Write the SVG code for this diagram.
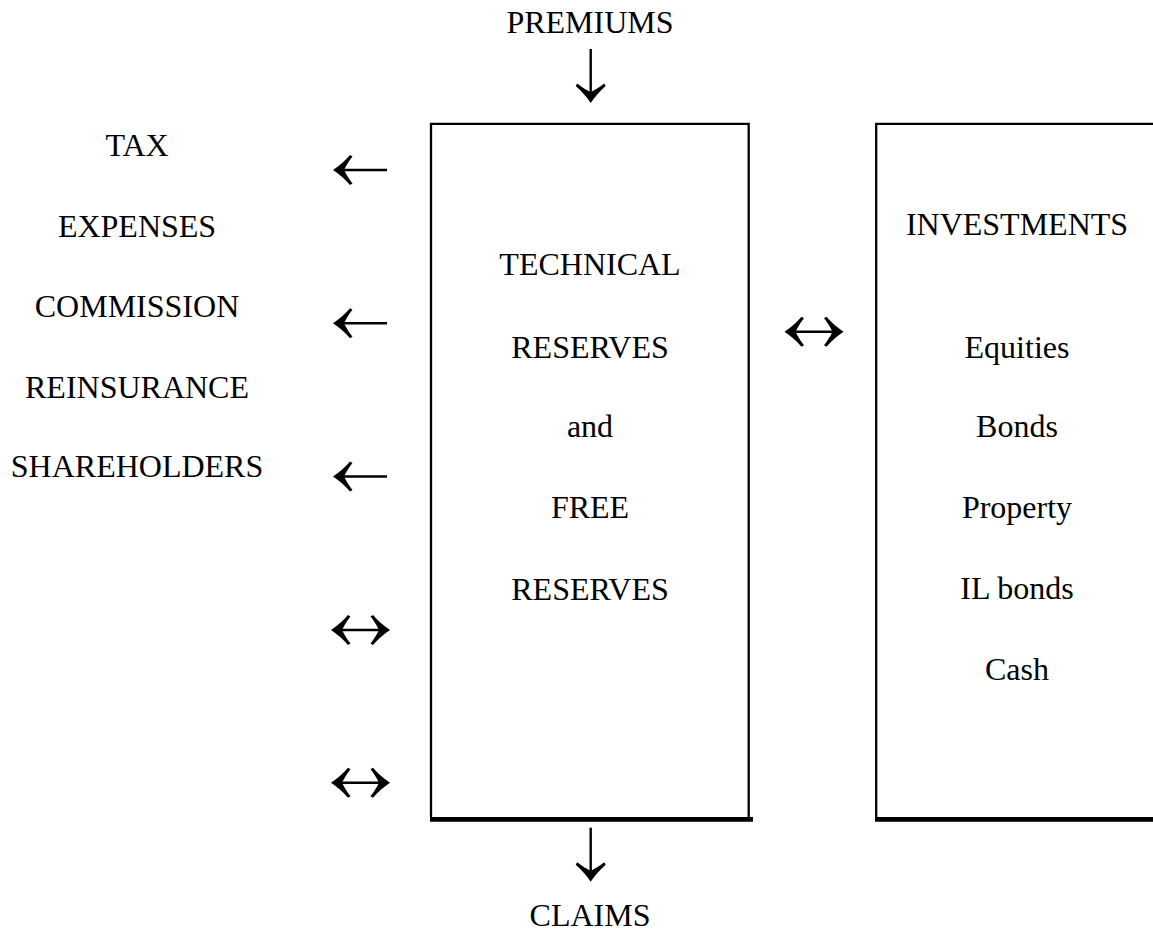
<svg xmlns="http://www.w3.org/2000/svg" xmlns:xlink="http://www.w3.org/1999/xlink" width="1153" height="933" viewBox="0 0 1153 933">
<style>
text{font-family:"Liberation Serif","Times New Roman",serif;font-size:32px;fill:#000;text-anchor:middle}
.thin{stroke:#000;stroke-width:2.3;fill:none}
.thick{stroke:#000;stroke-width:4.7;fill:none}
.shaft{stroke:#000;stroke-width:2.4;fill:none}
.head{fill:#000;stroke:none}
</style>
<defs>
<path id="hd" class="head" d="M0,0 C6,-4 12,-9 17,-15 L19.5,-13.5 C15,-8 12.5,-3 11,0 C12.5,3 15,8 19.5,13.5 L17,15 C12,9 6,4 0,0 Z"/>
<g id="arrL"><use xlink:href="#hd"/><line class="shaft" x1="6" y1="0" x2="54" y2="0"/></g>
<g id="arrLR"><use xlink:href="#hd"/><use xlink:href="#hd" transform="translate(59,0) scale(-1,1)"/><line class="shaft" x1="6" y1="0" x2="53" y2="0"/></g>
</defs>
<rect width="1153" height="933" fill="#fff"/>

<g id="premiums"><text x="590" y="33">PREMIUMS</text></g>
<g id="claims"><text x="590" y="926">CLAIMS</text></g>

<g id="outflows">
<text x="137" y="156">TAX</text>
<text x="137" y="237">EXPENSES</text>
<text x="137" y="317">COMMISSION</text>
<text x="137" y="398">REINSURANCE</text>
<text x="137" y="477">SHAREHOLDERS</text>
</g>

<g id="reserves">
<path class="thin" d="M431,817 V123.8 H748.7 V817"/>
<line class="thick" x1="430" y1="819.3" x2="753" y2="819.3"/>
<text x="590" y="275">TECHNICAL</text>
<text x="590" y="357.5">RESERVES</text>
<text x="590" y="437">and</text>
<text x="590" y="518">FREE</text>
<text x="590" y="600">RESERVES</text>
</g>

<g id="investments">
<path class="thin" d="M876.2,817 V123.8 H1153"/>
<line class="thick" x1="875" y1="819.3" x2="1153" y2="819.3"/>
<text x="1017" y="235">INVESTMENTS</text>
<text x="1017" y="358">Equities</text>
<text x="1017" y="437">Bonds</text>
<text x="1017" y="518">Property</text>
<text x="1017" y="599">IL bonds</text>
<text x="1017" y="680">Cash</text>
</g>

<g id="connectors">
<use xlink:href="#arrL" transform="translate(590.7,103) rotate(-90)"/>
<use xlink:href="#arrL" transform="translate(590.7,881.7) rotate(-90)"/>
<use xlink:href="#arrL" transform="translate(333,170)"/>
<use xlink:href="#arrL" transform="translate(333,323.3)"/>
<use xlink:href="#arrL" transform="translate(333,476.5)"/>
<use xlink:href="#arrLR" transform="translate(331,630)"/>
<use xlink:href="#arrLR" transform="translate(331,782.7)"/>
<use xlink:href="#arrLR" transform="translate(784.5,331.7)"/>
</g>
</svg>
